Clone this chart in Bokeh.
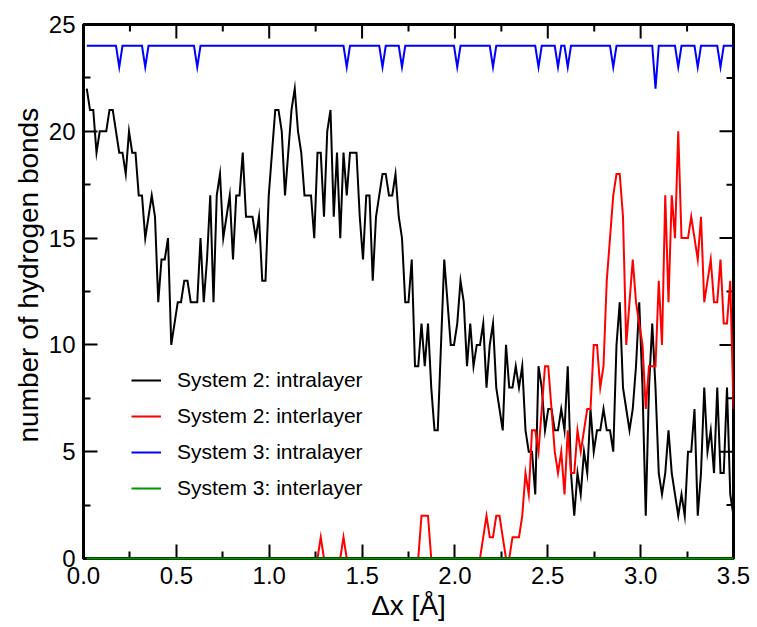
import numpy as np
from bokeh.plotting import figure
from bokeh.models import (FixedTicker, PrintfTickFormatter, Legend,
                          LegendItem, Range1d, ColumnDataSource, Title)
from bokeh.embed import file_html
from bokeh.resources import INLINE

# ---------------- data ----------------
step = 0.0175
dx = [round(step * (i + 1), 4) for i in range(200)]

sys2_intra = [
    22, 21, 21, 19, 20, 20, 20, 21, 21, 20, 19, 19, 18, 20, 19, 19, 17, 17, 15, 16,
    17, 16, 12, 14, 14, 15, 10, 11, 12, 12, 13, 13, 12, 12, 12, 15, 12, 14, 17, 12,
    17, 18, 15, 16, 17, 14, 17, 17, 19, 16, 16, 16, 15, 16, 13, 13, 17, 19, 21, 21,
    20, 17, 19, 21, 22, 20, 19, 17, 17, 17, 15, 19, 19, 16, 20, 21, 16, 19, 15, 19,
    17, 19, 19, 19, 16, 14, 17, 17, 13, 16, 17, 18, 18, 17, 17, 18, 16, 15, 12, 12,
    14, 9, 9, 11, 9, 11, 8, 6, 6, 10, 14, 12, 10, 10, 11, 13, 12, 9, 11, 9,
    10, 10, 11, 8, 10, 11, 8, 7, 6, 10, 8, 8, 9, 8, 9, 6, 5, 5, 3, 9,
    8, 6, 7, 7, 6, 6, 7, 6, 9, 4, 2, 4, 3, 5, 4, 7, 5, 6, 6, 7,
    6, 6, 5, 10, 12, 8, 7, 6, 7, 9, 12, 8, 2, 8, 11, 8, 4, 3, 4, 6,
    4, 3, 2, 3, 2, 5, 5, 7, 2, 4, 8, 5, 6, 4, 8, 4, 4, 8, 3, 2,
]

sys2_inter = [
    0, 0, 0, 0, 0, 0, 0, 0, 0, 0, 0, 0, 0, 0, 0, 0, 0, 0, 0, 0,
    0, 0, 0, 0, 0, 0, 0, 0, 0, 0, 0, 0, 0, 0, 0, 0, 0, 0, 0, 0,
    0, 0, 0, 0, 0, 0, 0, 0, 0, 0, 0, 0, 0, 0, 0, 0, 0, 0, 0, 0,
    0, 0, 0, 0, 0, 0, 0, 0, 0, 0, 0, 0, 1, 0, 0, 0, 0, 0, 0, 1,
    0, 0, 0, 0, 0, 0, 0, 0, 0, 0, 0, 0, 0, 0, 0, 0, 0, 0, 0, 0,
    0, 0, 0, 2, 2, 2, 0, 0, 0, 0, 0, 0, 0, 0, 0, 0, 0, 0, 0, 0,
    0, 0, 1, 2, 1, 1, 2, 2, 1, 0, 0, 1, 1, 1, 2, 4, 3, 6, 6, 5,
    7, 9, 9, 7, 5, 4, 5, 3, 6, 4, 4, 6, 5, 6, 7, 7, 10, 10, 8, 9,
    13, 15, 17, 18, 18, 16, 10, 12, 14, 12, 11, 10, 7, 9, 9, 9, 13, 10, 17, 12,
    17, 15, 20, 15, 15, 15, 16, 15, 14, 16, 12, 13, 14, 12, 12, 14, 11, 11, 13, 7,
]

sys3_intra = [
    24, 24, 24, 24, 24, 24, 24, 24, 24, 24, 23, 24, 24, 24, 24, 24, 24, 24, 23, 24,
    24, 24, 24, 24, 24, 24, 24, 24, 24, 24, 24, 24, 24, 24, 23, 24, 24, 24, 24, 24,
    24, 24, 24, 24, 24, 24, 24, 24, 24, 24, 24, 24, 24, 24, 24, 24, 24, 24, 24, 24,
    24, 24, 24, 24, 24, 24, 24, 24, 24, 24, 24, 24, 24, 24, 24, 24, 24, 24, 24, 24,
    23, 24, 24, 24, 24, 24, 24, 24, 24, 24, 24, 23, 24, 24, 24, 24, 24, 23, 24, 24,
    24, 24, 24, 24, 24, 24, 24, 24, 24, 24, 24, 24, 24, 24, 23, 24, 24, 24, 24, 24,
    24, 24, 24, 24, 24, 23, 24, 24, 24, 24, 24, 24, 24, 24, 24, 24, 24, 24, 24, 23,
    24, 24, 24, 24, 24, 23, 24, 24, 23, 24, 24, 24, 24, 24, 24, 24, 24, 24, 24, 24,
    24, 24, 23, 24, 24, 24, 24, 24, 24, 24, 24, 24, 24, 24, 24, 22, 24, 24, 24, 24,
    24, 24, 23, 24, 24, 24, 24, 24, 23, 24, 24, 24, 24, 24, 24, 23, 24, 24, 24, 24,
]

sys3_inter = [
    0, 0, 0, 0, 0, 0, 0, 0, 0, 0, 0, 0, 0, 0, 0, 0, 0, 0, 0, 0,
    0, 0, 0, 0, 0, 0, 0, 0, 0, 0, 0, 0, 0, 0, 0, 0, 0, 0, 0, 0,
    0, 0, 0, 0, 0, 0, 0, 0, 0, 0, 0, 0, 0, 0, 0, 0, 0, 0, 0, 0,
    0, 0, 0, 0, 0, 0, 0, 0, 0, 0, 0, 0, 0, 0, 0, 0, 0, 0, 0, 0,
    0, 0, 0, 0, 0, 0, 0, 0, 0, 0, 0, 0, 0, 0, 0, 0, 0, 0, 0, 0,
    0, 0, 0, 0, 0, 0, 0, 0, 0, 0, 0, 0, 0, 0, 0, 0, 0, 0, 0, 0,
    0, 0, 0, 0, 0, 0, 0, 0, 0, 0, 0, 0, 0, 0, 0, 0, 0, 0, 0, 0,
    0, 0, 0, 0, 0, 0, 0, 0, 0, 0, 0, 0, 0, 0, 0, 0, 0, 0, 0, 0,
    0, 0, 0, 0, 0, 0, 0, 0, 0, 0, 0, 0, 0, 0, 0, 0, 0, 0, 0, 0,
    0, 0, 0, 0, 0, 0, 0, 0, 0, 0, 0, 0, 0, 0, 0, 0, 0, 0, 0, 0,
]

series_labels = ["System 2: intralayer", "System 2: interlayer",
                 "System 3: intralayer", "System 3: interlayer"]
series_colors = ["#000000", "#ff0000", "#0000ff", "#009600"]

x_ticks = [0.0, 0.5, 1.0, 1.5, 2.0, 2.5, 3.0, 3.5]
x_minor = [0.25, 0.75, 1.25, 1.75, 2.25, 2.75, 3.25]
y_ticks = [0, 5, 10, 15, 20, 25]
y_minor = [2.5, 7.5, 12.5, 17.5, 22.5]

X_MAX = 3.5
Y_MAX = 25
FONT = "Liberation Sans"

# ---------------- figure ----------------
p = figure(width=757, height=627, output_backend="svg", toolbar_location=None,
           x_range=Range1d(0, X_MAX), y_range=Range1d(0, Y_MAX),
           min_border_left=83, min_border_right=24, min_border_top=24,
           min_border_bottom=69)
p.outline_line_color = "black"
p.outline_line_width = 3
p.xgrid.grid_line_color = None
p.ygrid.grid_line_color = None
p.background_fill_color = "white"
p.border_fill_color = "white"


def style_axis(ax, ticks, minor, fmt):
    ax.ticker = FixedTicker(ticks=ticks, minor_ticks=minor)
    ax.formatter = PrintfTickFormatter(format=fmt)
    ax.axis_line_width = 3
    ax.axis_line_color = "black"
    ax.major_tick_in = 14
    ax.major_tick_out = 0
    ax.minor_tick_in = 7
    ax.minor_tick_out = 0
    ax.major_tick_line_width = 2
    ax.minor_tick_line_width = 2
    ax.major_tick_line_color = "black"
    ax.minor_tick_line_color = "black"
    ax.major_label_text_font = FONT
    ax.major_label_text_color = "black"
    ax.major_label_text_font_size = "24px"
    ax.major_label_standoff = 8
    ax.axis_label_text_font = FONT
    ax.axis_label_text_font_style = "normal"
    ax.axis_label_text_color = "black"
    ax.axis_label_text_font_size = "28px"


style_axis(p.xaxis[0], x_ticks, x_minor, "%.1f")
style_axis(p.yaxis[0], y_ticks, y_minor, "%d")
p.xaxis[0].axis_label = "Δx [Å]"
p.xaxis[0].axis_label_standoff = 3

# y-axis title, placed slightly above centre as in the reference
ytitle = Title(text="number of hydrogen bonds", align="left", offset=116,
               text_font=FONT, text_font_size="28px", text_font_style="normal",
               text_color="black", standoff=4)
p.add_layout(ytitle, "left")

# mirrored inward ticks on the top and right edges
p.scatter(x_ticks, [Y_MAX] * len(x_ticks), marker="dash", angle=np.pi / 2,
          size=28, line_color="black", line_width=2)
p.scatter(x_minor, [Y_MAX] * len(x_minor), marker="dash", angle=np.pi / 2,
          size=14, line_color="black", line_width=2)
p.scatter([X_MAX] * len(y_ticks), y_ticks, marker="dash",
          size=28, line_color="black", line_width=2)
p.scatter([X_MAX] * len(y_minor), y_minor, marker="dash",
          size=14, line_color="black", line_width=2)

src = ColumnDataSource(dict(x=dx, s2a=sys2_intra, s2e=sys2_inter,
                            s3a=sys3_intra, s3e=sys3_inter))
renderers = []
for col, color in zip(["s2a", "s2e", "s3a", "s3e"], series_colors):
    r = p.line("x", col, source=src, line_color=color, line_width=2,
               line_join="miter")
    renderers.append(r)
renderers[3].level = "overlay"

legend = Legend(items=[LegendItem(label=l, renderers=[r])
                       for l, r in zip(series_labels, renderers)],
                location=(48, 58), border_line_color=None,
                background_fill_alpha=0, label_text_font=FONT,
                label_text_font_size="21px", label_text_color="black",
                glyph_width=30, glyph_height=20, label_height=20,
                label_standoff=16, spacing=12, padding=0, margin=0)
p.add_layout(legend)

open("out.html", "w").write(file_html(p, INLINE))
